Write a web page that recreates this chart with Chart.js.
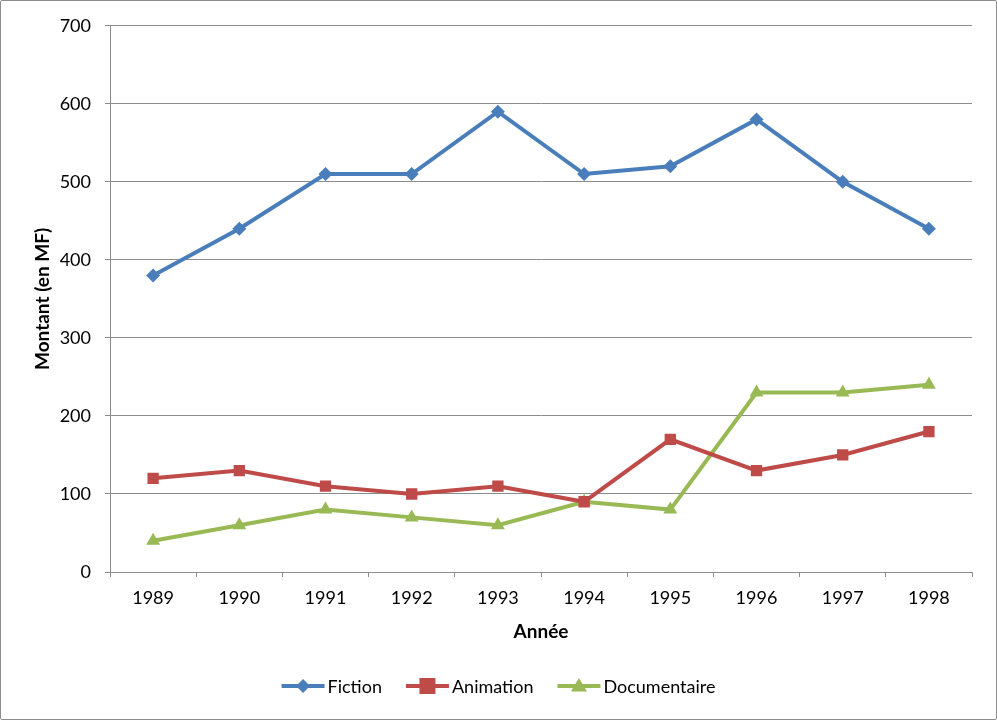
<!DOCTYPE html>
<html><head><meta charset="utf-8">
<script src="https://cdn.jsdelivr.net/npm/chart.js@4.4.1/dist/chart.umd.min.js"></script>
<style>html,body{margin:0;padding:0;background:#fff}#wrap{position:relative;width:997px;height:720px;box-sizing:border-box;border:1px solid #8c8c8c;border-radius:2px}canvas{display:block}</style>
</head><body><div id="wrap"><canvas id="c" width="995" height="718"></canvas></div>
<script>
const categories = ['1989','1990','1991','1992','1993','1994','1995','1996','1997','1998'];
const fiction = [380, 440, 510, 510, 590, 510, 520, 580, 500, 440];
const animation = [120, 130, 110, 100, 110, 90, 170, 130, 150, 180];
const documentaire = [40, 60, 80, 70, 60, 90, 80, 230, 230, 240];
const seriesNames = ['Fiction', 'Animation', 'Documentaire'];
const yTitle = 'Montant (en MF)';
const xTitle = 'Année';

const FONT = 'Lato, "Open Sans", sans-serif';
const GRID = '#8c8c8c';
const colors = ['#4a7ebb', '#be4b48', '#98b954'];
const shapes = ['rectRot', 'rect', 'triangle'];
const radii = [7, 8, 8];

function drawMarker(ctx, shape, x, y, r, color) {
  ctx.save();
  ctx.fillStyle = color;
  ctx.beginPath();
  if (shape === 'rectRot') {
    ctx.moveTo(x, y - r); ctx.lineTo(x + r, y); ctx.lineTo(x, y + r); ctx.lineTo(x - r, y);
  } else if (shape === 'rect') {
    ctx.rect(x - r, y - r, 2 * r, 2 * r);
  } else {
    ctx.moveTo(x, y - r); ctx.lineTo(x + r, y + r * 0.7); ctx.lineTo(x - r, y + r * 0.7);
  }
  ctx.closePath();
  ctx.fill();
  ctx.restore();
}

const legendPlugin = {
  id: 'lineLegend',
  afterDraw(chart) {
    const ctx = chart.ctx;
    ctx.save();
    ctx.font = '18px ' + FONT;
    ctx.textBaseline = 'middle';
    const lineLen = 43, gapText = 3, gapItem = 24;
    const widths = seriesNames.map(n => ctx.measureText(n).width);
    let total = 0;
    widths.forEach((w, i) => { total += lineLen + gapText + w + (i < widths.length - 1 ? gapItem : 0); });
    let x = (chart.width - total) / 2;
    const y = 685;
    seriesNames.forEach((n, i) => {
      ctx.strokeStyle = colors[i];
      ctx.lineWidth = 4;
      ctx.beginPath(); ctx.moveTo(x, y); ctx.lineTo(x + lineLen, y); ctx.stroke();
      drawMarker(ctx, shapes[i], x + lineLen / 2, y, radii[i], colors[i]);
      ctx.fillStyle = '#000';
      ctx.fillText(n, x + lineLen + gapText, y + 1);
      x += lineLen + gapText + widths[i] + gapItem;
    });
    ctx.restore();
  }
};

const dataSets = [fiction, animation, documentaire].map((d, i) => ({
  label: seriesNames[i],
  data: d,
  borderColor: colors[i],
  backgroundColor: colors[i],
  borderWidth: 4,
  pointStyle: shapes[i],
  pointRadius: radii[i],
  pointHoverRadius: radii[i],
  pointBorderWidth: 0,
  tension: 0
}));

new Chart(document.getElementById('c'), {
  type: 'line',
  data: { labels: categories, datasets: dataSets },
  plugins: [legendPlugin],
  options: {
    responsive: false,
    animation: false,
    layout: { padding: { left: 0, right: 24, top: 24, bottom: 69 } },
    plugins: { legend: { display: false }, tooltip: { enabled: false } },
    scales: {
      x: {
        offset: true,
        grid: { display: true, offset: true, drawOnChartArea: false, drawTicks: true, tickLength: 5, color: GRID, lineWidth: 1 },
        border: { display: true, color: GRID, width: 1 },
        ticks: { color: '#000', font: { family: FONT, size: 18 }, padding: 10, maxRotation: 0, autoSkip: false },
        title: { display: true, text: xTitle, color: '#000', font: { family: FONT, size: 19, weight: 'bold' }, padding: { top: 0, bottom: 7 } },
        afterFit(s) { s.height = 78; }
      },
      y: {
        min: 0, max: 700,
        grid: { color: GRID, lineWidth: 1, tickLength: 5, drawTicks: true },
        border: { display: true, color: GRID, width: 1 },
        ticks: { stepSize: 100, color: '#000', font: { family: FONT, size: 18 }, padding: 14 },
        title: { display: true, text: yTitle, color: '#000', font: { family: FONT, size: 19, weight: 'bold' }, padding: { top: 30, bottom: 0 } },
        afterFit(s) { s.width = 109; }
      }
    }
  }
});
</script></body></html>
